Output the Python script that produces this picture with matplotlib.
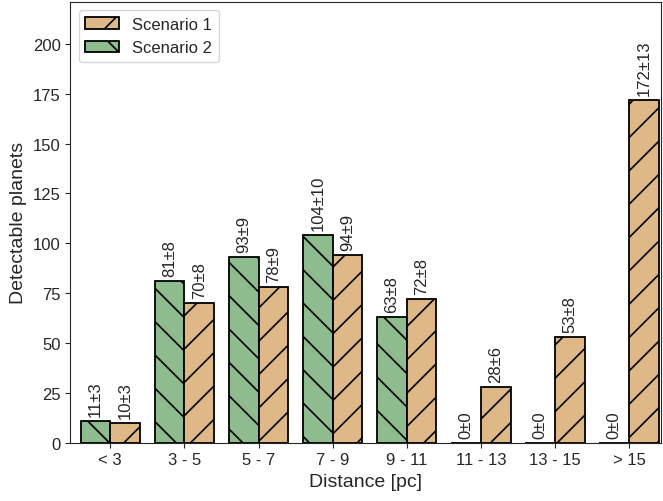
import matplotlib
matplotlib.use("Agg")
import matplotlib.pyplot as plt
import seaborn as sns
import numpy as np

categories = ["< 3", "3 - 5", "5 - 7", "7 - 9", "9 - 11", "11 - 13", "13 - 15", "> 15"]
scen1 = [10, 70, 78, 94, 72, 28, 53, 172]
scen1_err = [3, 8, 9, 9, 8, 6, 8, 13]
scen2 = [11, 81, 93, 104, 63, 0, 0, 0]
scen2_err = [3, 8, 9, 10, 8, 0, 0, 0]

sns.set_style("ticks")
plt.rcParams['font.family'] = ['Liberation Sans', 'DejaVu Sans']
plt.rcParams['hatch.linewidth'] = 1.2

fig = plt.figure(figsize=(6.63, 5.02), dpi=100)
ax = fig.add_axes([0.106, 0.116, 0.891, 0.878])

x = np.arange(len(categories))
w = 0.4
b2 = ax.bar(x - w / 2, scen2, w, color='#8fbc8f', edgecolor='black', linewidth=1.3,
            hatch='\\', label='Scenario 2')
b1 = ax.bar(x + w / 2, scen1, w, color='#deb887', edgecolor='black', linewidth=1.3,
            hatch='/', label='Scenario 1')

# value labels above each bar
for xi, v, e in zip(x - w / 2, scen2, scen2_err):
    ax.text(xi, v + 2.5, f"{v}\u00b1{e}", rotation=90, ha='center', va='bottom', fontsize=12)
for xi, v, e in zip(x + w / 2, scen1, scen1_err):
    ax.text(xi, v + 2.5, f"{v}\u00b1{e}", rotation=90, ha='center', va='bottom', fontsize=12)

ax.set_xticks(x)
ax.set_xticklabels(categories, fontsize=12)
ax.tick_params(axis='y', labelsize=12)
ax.set_xlim(-0.54, 7.43)
ax.set_ylim(0, 221)
ax.set_yticks(np.arange(0, 201, 25))
ax.set_xlabel("Distance [pc]", fontsize=14)
ax.set_ylabel("Detectable planets", fontsize=14)
ax.legend(handles=[b1, b2], loc='upper left', fontsize=12)

fig.savefig("out.png", dpi=100)
